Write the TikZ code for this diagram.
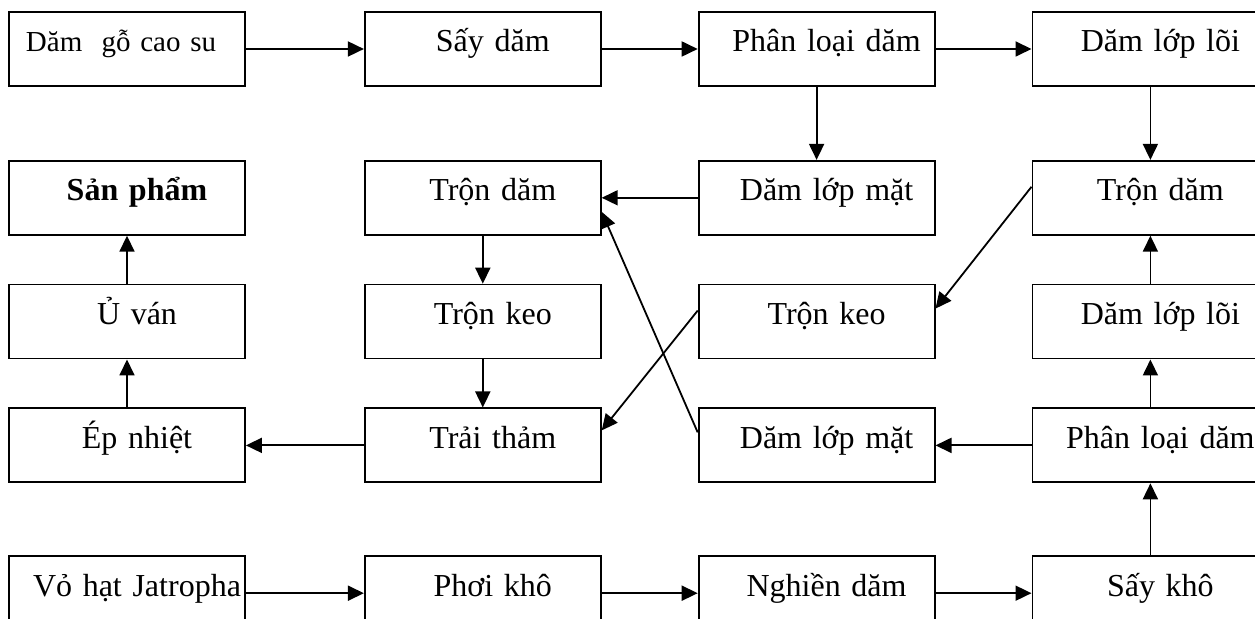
\documentclass[tikz,border=0pt]{standalone}
\usepackage{fontspec}
\setmainfont{Liberation Serif}
\usetikzlibrary{arrows.meta, positioning}

\begin{document}
\begin{tikzpicture}[
    node distance=24pt,
    box/.style={rectangle, draw, line width=0.9pt, text width=118pt, align=center, inner xsep=0pt, inner ysep=0pt, text height=20pt, text depth=17pt, font=\fontsize{16}{19}\selectfont, execute at begin node={\hspace*{10pt}}},
    arrow/.style={-{Triangle[length=8pt, width=7.5pt]}, line width=0.9pt}
]
\useasboundingbox (0pt,0pt) rectangle (627.5pt,-309.5pt);

% Hàng 1: dăm gỗ cao su
\node[box, font=\fontsize{14.5}{17}\selectfont, execute at begin node={\hspace*{-16pt}}] (dam) at (63.5pt,-24.5pt) {Dăm\ \ gỗ cao su};
\node[box, right=59pt of dam] (say) {Sấy dăm};
\node[box, right=48pt of say] (phanloai) {Phân loại dăm};
\node[box, right=48pt of phanloai] (loi) {Dăm lớp lõi};

% Hàng 2
\node[box, below=36.5pt of dam] (sanpham) {\textbf{Sản phẩm}};
\node[box, below=36.5pt of say] (tron) {Trộn dăm};
\node[box, below=36.5pt of phanloai] (mat) {Dăm lớp mặt};
\node[box, below=36.5pt of loi] (tronloi) {Trộn dăm};

% Hàng 3
\node[box, below=of sanpham] (uvan) {Ủ ván};
\node[box, below=of tron] (keo) {Trộn keo};
\node[box, below=of mat] (keomat) {Trộn keo};
\node[box, below=of tronloi] (loivo) {Dăm lớp lõi};

% Hàng 4
\node[box, below=of uvan] (ep) {Ép nhiệt};
\node[box, below=of keo] (trai) {Trải thảm};
\node[box, below=of keomat] (matvo) {Dăm lớp mặt};
\node[box, below=of loivo] (phanloaivo) {Phân loại dăm};

% Hàng 5: vỏ hạt Jatropha
\node[box, below=36pt of ep] (vo) {Vỏ hạt Jatropha};
\node[box, below=36pt of trai] (phoi) {Phơi khô};
\node[box, below=36pt of matvo] (nghien) {Nghiền dăm};
\node[box, below=36pt of phanloaivo] (saykho) {Sấy khô};

% Dòng dăm gỗ
\draw[arrow] (dam) -- (say);
\draw[arrow] (say) -- (phanloai);
\draw[arrow] (phanloai) -- (loi);
\draw[arrow] (phanloai) -- (mat);
\draw[arrow] (loi) -- (tronloi);
\draw[arrow] (mat) -- (tron);

% Dòng vỏ hạt
\draw[arrow] (vo) -- (phoi);
\draw[arrow] (phoi) -- (nghien);
\draw[arrow] (nghien) -- (saykho);
\draw[arrow] (saykho) -- (phanloaivo);
\draw[arrow] (phanloaivo) -- (loivo);
\draw[arrow] (loivo) -- (tronloi);
\draw[arrow] (phanloaivo) -- (matvo);

% Đường chéo
\draw[arrow] ([yshift=5.5pt]tronloi.west) -- ([yshift=6.5pt]keomat.east);
\draw[arrow] ([yshift=5.5pt]keomat.west) -- ([yshift=7.5pt]trai.east);
\draw[arrow] ([yshift=6.5pt]matvo.west) -- ([yshift=-7pt]tron.east);

% Ra sản phẩm
\draw[arrow] (tron) -- (keo);
\draw[arrow] (keo) -- (trai);
\draw[arrow] (trai) -- (ep);
\draw[arrow] (ep) -- (uvan);
\draw[arrow] (uvan) -- (sanpham);
\end{tikzpicture}
\end{document}
